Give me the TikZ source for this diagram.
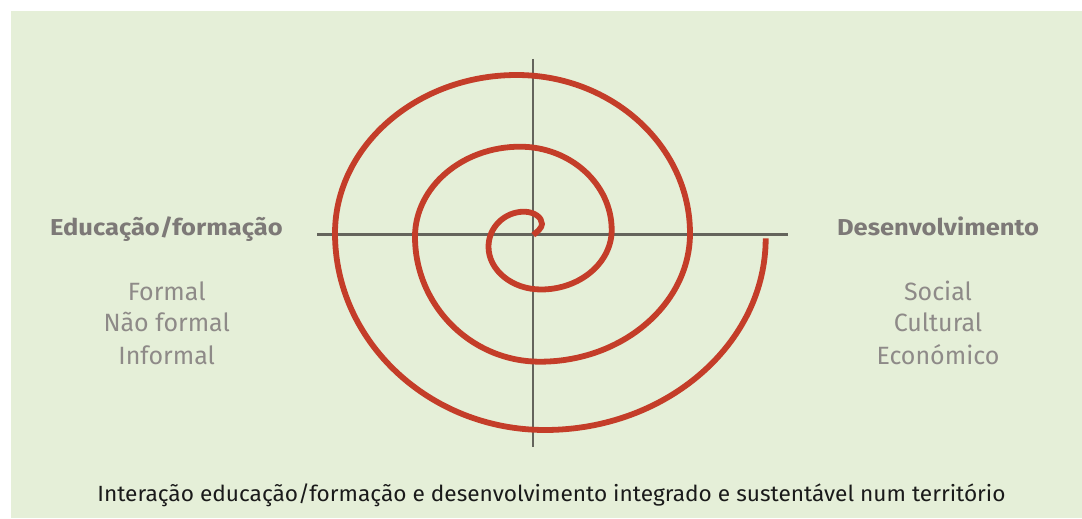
\documentclass[tikz,border=0pt]{standalone}
\usepackage{fontspec}
\setmainfont{Fira Sans}
\definecolor{panel}{HTML}{E5EFD8}
\definecolor{spiralred}{HTML}{C43D29}
\definecolor{axisgray}{HTML}{64645C}
\definecolor{titlegray}{HTML}{7D7977}
\definecolor{itemgray}{HTML}{8E8A88}
\definecolor{captionblack}{HTML}{1A1A1A}
\tikzset{
  axisline/.style={draw=axisgray, line width=2.6pt},
  spiralline/.style={draw=spiralred, line width=5.8pt, line join=round},
  titletext/.style={font=\bfseries\fontsize{23}{28}\selectfont, text=titlegray, anchor=base, inner sep=0pt, xscale=1.11},
  itemtext/.style={font=\fontsize{25}{32}\selectfont, text=itemgray, anchor=base, inner sep=0pt},
  captiontext/.style={font=\fontsize{22}{26}\selectfont, text=captionblack, anchor=base, inner sep=0pt, xscale=1.03}
}
\begin{document}
\begin{tikzpicture}[x=1pt,y=-1pt]
\useasboundingbox (0,0) rectangle (1082,519);
\fill[white] (0,0) rectangle (1082,519);
\fill[panel] (11,11) rectangle (1082,518);
\coordinate (hl) at (317,234.3);
\coordinate (hr) at (788,234.3);
\coordinate (vt) at (533,59);
\coordinate (vb) at (533,447);
\draw[axisline] (hl) -- (hr);
\draw[axisline] (vt) -- (vb);
\draw[spiralline] (533.3,235)
  .. controls (537,232) and (542,228) .. (542,224)
  .. controls (542,217.2) and (533.9,211.7) .. (524,211.7)
  .. controls (504.5,211.7) and (488.5,227.4) .. (488.5,246.7)
  .. controls (488.5,270.2) and (512.1,289.5) .. (541,289.5)
  .. controls (579.9,289.5) and (611.7,262.7) .. (611.7,230)
  .. controls (611.7,184.2) and (570.4,146.7) .. (520,146.7)
  .. controls (462.2,146.7) and (415,187.2) .. (415,236.7)
  .. controls (415,305.5) and (471.2,361.7) .. (540,361.7)
  .. controls (622.5,361.7) and (690,303.9) .. (690,233.3)
  .. controls (690,146.2) and (612,75) .. (516.7,75)
  .. controls (416.8,75) and (335,146.2) .. (335,233.3)
  .. controls (335,341.5) and (429.5,430) .. (545,430)
  .. controls (666.4,430) and (765.7,343.7) .. (765.7,238.3);
\node[titletext] (edu) at (166.5,235) {Educação/formação};
\node[titletext] (des) at (938,235.5) {Desenvolvimento};
\node[itemtext] (f1) at (166.7,300) {Formal};
\node[itemtext] (f2) at (166.7,331.7) {Não formal};
\node[itemtext] (f3) at (166.7,364) {Informal};
\node[itemtext] (d1) at (938,300) {Social};
\node[itemtext] (d2) at (938,331.7) {Cultural};
\node[itemtext] (d3) at (938,364) {Económico};
\node[captiontext] (cap) at (551.5,501.7) {Interação educação/formação e desenvolvimento integrado e sustentável num território};
\end{tikzpicture}
\end{document}
